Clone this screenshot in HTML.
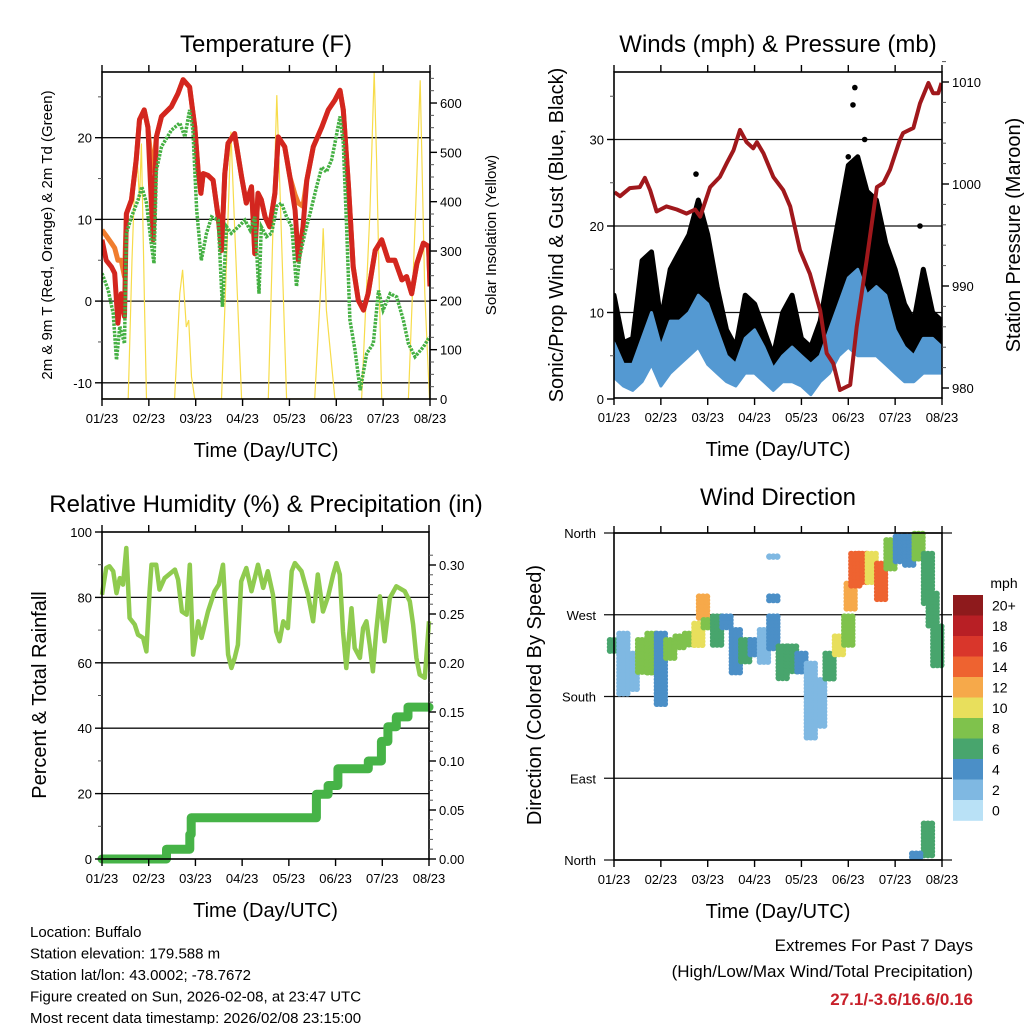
<!DOCTYPE html>
<html><head><meta charset="utf-8"><style>
html,body{margin:0;padding:0;background:#fff;}
svg{display:block;font-family:"Liberation Sans",Arial,sans-serif;}
</style></head><body>
<svg id="c" width="1024" height="1024" viewBox="0 0 1024 1024" xmlns="http://www.w3.org/2000/svg"></svg>
<script>
// ===== DATA =====
const dayTickLabels = ["01/23","02/23","03/23","04/23","05/23","06/23","07/23","08/23"];
// Temperature (F)
const tDay = [0,.09,.2,.27,.34,.41,.48,.52,.63,.73,.8,.9,.98,1.05,1.09,1.16,1.27,1.48,1.62,1.73,1.87,1.98,2.05,2.11,2.16,2.26,2.37,2.48,2.55,2.62,2.69,2.83,2.98,3.08,3.19,3.26,3.33,3.4,3.48,3.58,3.69,3.76,3.9,4.01,4.12,4.19,4.29,4.37,4.51,4.69,4.83,4.97,5.08,5.15,5.26,5.36,5.47,5.58,5.68,5.83,5.97,6.11,6.25,6.4,6.5,6.61,6.72,6.86,6.97,7];
const tRed = [7.5,5,4.2,3.4,-2.7,0.9,-1.9,10.7,12.4,17.3,22.2,23.4,21.3,12.4,7.5,20.1,22.6,23.8,25.4,27.1,26.2,21.3,16,13.2,15.6,15.4,14.8,10.3,6.2,15.6,19.3,20.5,15.2,12,14,5.8,13.2,12.4,10.3,9.1,13.2,20.1,18.9,15.2,11.1,5,9.1,14.8,18.9,21.3,23.4,24.6,25.8,23.4,14,4.2,0.1,-1.1,0.9,6.2,7.5,5,5,2.6,3,0.9,4.6,7.1,6.7,1.8];
const tOrange = [8.7,8,7.1,6.5,5,5,3,10.7,12.4,17.3,22.2,23.4,21.3,17,16,20.1,22.6,23.8,25.4,27.1,26.2,21.3,16,13.2,15.6,15.4,14.8,10.3,6.2,15.6,19.3,20.5,15.2,12,14,5.8,13.2,12.4,10.3,9.1,13.2,20.1,18.9,15.2,13,12,11.6,14.8,18.9,21.3,23.4,24.6,25.8,23.4,14,4.2,0.1,-1.1,0.9,6.2,7.5,5,5,2.6,3,0.9,4.6,7.1,6.7,1.8];
const tdDay = [0,.13,.24,.31,.38,.48,.52,.63,.77,.85,.95,1.05,1.11,1.16,1.27,1.48,1.66,1.77,1.87,1.94,2.02,2.12,2.23,2.34,2.48,2.57,2.66,2.76,2.91,3.05,3.16,3.26,3.35,3.4,3.51,3.62,3.73,3.83,3.94,4.05,4.15,4.22,4.33,4.44,4.58,4.69,4.79,4.9,4.97,5.08,5.15,5.22,5.29,5.4,5.51,5.65,5.79,5.9,6,6.15,6.29,6.43,6.54,6.68,6.86,6.99];
const tdGreen = [3.4,1.4,-1.5,-7.2,-3.1,-5.2,8.3,10.3,12.4,14,12,7.1,4.6,16,18.9,20.9,21.8,20.1,23.4,20.9,11.1,5,8.3,10.3,9.9,-0.7,9.1,8.3,9.1,9.9,8.7,10.3,0.9,9.1,7.9,8.3,11.6,12,10.3,9.1,1.8,5.4,8.3,10.7,14,16.4,15.8,17.3,19.3,22.6,19.3,9.1,-2.3,-6,-10.9,-6.4,-5.2,1.3,-1.1,0.9,0.5,-2.3,-5.2,-6.8,-5.6,-4.4];
const solarDay = [0,.56,.64,.73,.8,.84,.91,.95,1.55,1.66,1.72,1.8,1.85,1.91,1.98,2.55,2.66,2.75,2.83,2.98,3.55,3.65,3.73,3.8,3.94,4.54,4.69,4.72,4.79,4.97,5.54,5.72,5.81,5.86,5.97,6.54,6.68,6.79,6.89,6.99];
const solarVal = [0,0,282,525,403,518,180,0,0,214,262,146,160,45,0,0,282,542,349,0,0,349,616,416,0,0,268,346,180,0,0,383,664,484,0,0,349,646,214,0];
// Winds
const windDay = [0,.2,.4,.6,.8,1,1.2,1.4,1.6,1.8,2,2.2,2.4,2.6,2.8,3,3.2,3.4,3.6,3.8,4,4.2,4.4,4.6,4.8,5,5.2,5.4,5.6,5.8,6,6.2,6.4,6.6,6.8,7];
const speedLo = [2.5,1.5,1,2,4,1.5,3,4,5,6,4,3,2,1.5,3,3,2,1,2,2,1.5,0.5,2,3,5,6,5,5,5,4,3,2,2,3,3,3];
const speedHi = [6.5,4,4,7,10,6,9,9,10,12,11,8,5,4,7,8,6,3.5,5,6,5,4,5,8,11,14,15,12,13,12,8,6,5,7,7,6];
const gustLo = [4,2.5,3,6,7,2,6,7,8,10,7,5,3,2,5,5,3,2,3,4,2,2,3,5,8,10,12,9,9,7,5,4,4,5,5,5];
const gustHi = [12,6.5,7,16,17,9,15,17,19,23,19,13,8,6,12,11,8,5,10,12,7,6,9,15,21,27,28,24,23,18,15,11,9,15,10,9];
const gustPeakDay = [1.75,5.0,5.14,5.1,5.35,6.53];
const gustPeakVal = [26,28,36,34,30,20];
const presDay = [.01,.13,.34,.55,.66,.77,.91,1.12,1.34,1.55,1.73,1.84,2.05,2.26,2.4,2.55,2.69,2.83,2.97,3.05,3.19,3.4,3.61,3.76,3.97,4.18,4.4,4.54,4.68,4.82,5.04,5.18,5.39,5.61,5.75,5.89,6.1,6.17,6.39,6.53,6.71,6.81,6.92,6.99];
const presVal = [999.2,998.8,999.6,999.7,1000.6,999.4,997.3,997.8,997.5,997.1,997.5,996.8,999.7,1000.7,1002,1003.3,1005.3,1004.1,1003.5,1004.1,1003,1000.7,999.4,997.8,993.5,991.2,987.6,983.4,982.4,979.8,980.3,986,992.5,999.7,1000.1,1001.4,1004.3,1005,1005.5,1007.9,1009.9,1008.9,1008.9,1009.9];
// RH & precip
const rhDay = [0,.09,.16,.24,.31,.38,.45,.52,.59,.7,.77,.88,.95,1.02,1.06,1.16,1.23,1.34,1.56,1.63,1.71,1.81,1.88,1.95,2.06,2.13,2.27,2.41,2.5,2.59,2.7,2.77,2.84,2.91,2.98,3.09,3.2,3.34,3.45,3.55,3.66,3.73,3.8,3.88,3.98,4.06,4.13,4.27,4.41,4.52,4.62,4.73,4.84,4.95,5.02,5.09,5.16,5.23,5.34,5.41,5.52,5.59,5.66,5.73,5.8,5.87,5.95,6.05,6.16,6.3,6.48,6.59,6.66,6.73,6.8,6.91,7];
const rhVal = [80.8,89,89.5,88,81.3,85.9,83.9,95.1,73.7,71.7,68.6,67.6,63.5,81.9,90,90,82.4,85.9,88.5,85.4,75.7,74.7,90,62.5,72.7,67.6,75.7,81.9,83.9,90,62.5,58.4,61.5,65.5,84.9,89,81.9,90,82.9,88,80.8,69.6,66.6,72.7,70.6,88,90.5,88,80.8,72.7,87,75.7,80.3,87,90.5,87,69.6,58.4,76.7,64.5,61.5,70.6,72.7,65.5,57.4,69.6,80.3,66.6,79.8,83.4,81.9,78.8,71.7,61.5,56.4,55.4,72.7];
const precipDay = [0,1.38,1.88,1.91,4.59,4.84,5.05,5.7,5.98,6.12,6.3,6.55];
const precipVal = [0,0.01,0.025,0.042,0.066,0.075,0.092,0.1,0.12,0.135,0.145,0.155];
// Wind direction
const dirDay = [0,.2,.4,.6,.8,1,1.2,1.4,1.6,1.8,1.9,2,2.2,2.4,2.6,2.8,3,3.2,3.4,3.6,3.8,4,4.2,4.4,4.6,4.8,5,5.05,5.15,5.3,5.5,5.7,5.9,6.1,6.3,6.5,6.7,6.8,6.9,6.7,6.45,3.4,3.4];
const dirLo = [227,183,187,205,205,169,220,231,235,235,264,253,235,253,205,216,224,216,231,198,205,205,132,147,198,224,235,277,301,304,304,286,319,326,323,330,282,257,213,2,2,334,286];
const dirHi = [242,249,227,242,249,249,242,246,249,260,290,264,268,268,253,242,242,253,268,235,235,227,216,198,227,246,268,304,337,337,337,326,352,356,356,359,337,293,257,40,7,334,290];
const dirSpd = [6,2,2,8,7,3,7,8,8,10,12,7,6,4,3,6,4,2,4,6,6,4,2,2,6,9,8,12,14,14,10,13,7,4,4,7,6,6,6,6,4,1,4];
const cbarLabels = ["20+","18","16","14","12","10","8","6","4","2","0"];
const cbarColors = ["#8e1a1c","#b81f25","#d9362b","#ee6330","#f6a94a","#e8df5c","#7fc24c","#48a56d","#4b8fc7","#7fb8e2","#b9e1f6"];

// ===== HELPERS =====
const NS="http://www.w3.org/2000/svg";
const svg=document.getElementById('c');
function mk(tag,attrs,parent){const e=document.createElementNS(NS,tag);for(const k in attrs)e.setAttribute(k,attrs[k]);(parent||svg).appendChild(e);return e;}
function txt(s,x,y,size,anchor,parent,extra){const t=mk('text',Object.assign({x:x,y:y,'font-size':size,'text-anchor':anchor||'middle',fill:'#000'},extra||{}),parent);t.textContent=s;return t;}
function pathFrom(xs,ys){let d='';for(let i=0;i<xs.length;i++)d+=(i?'L':'M')+xs[i].toFixed(1)+','+ys[i].toFixed(1);return d;}

function frame(P,g){
  mk('rect',{x:P.x0,y:P.y0,width:P.x1-P.x0,height:P.y1-P.y0,fill:'none',stroke:'#000','stroke-width':1.6},g);
  for(let i=0;i<8;i++){const x=P.x0+i*(P.x1-P.x0)/7;
    mk('line',{x1:x,y1:P.y1,x2:x,y2:P.y1+7,stroke:'#000','stroke-width':1.4},g);
    mk('line',{x1:x,y1:P.y0,x2:x,y2:P.y0-7,stroke:'#000','stroke-width':1.4},g);
    const t=txt(dayTickLabels[i],x,P.y1+24,13,'middle',g);
    
    
  }
  const xt=txt('Time (Day/UTC)',(P.x0+P.x1)/2,P.y1+58,20,'middle',g);
  
  
}
function leftTicks(P,vals,labels,yf,g,size){
  vals.forEach((v,i)=>{const y=yf(v);
    mk('line',{x1:P.x0-7,y1:y,x2:P.x0,y2:y,stroke:'#000','stroke-width':1.4},g);
    const t=txt(labels[i],P.x0-10,y+5,size||13,'end',g);
    
    });
}
function rightTicks(P,vals,labels,yf,g){
  vals.forEach((v,i)=>{const y=yf(v);
    mk('line',{x1:P.x1,y1:y,x2:P.x1+7,y2:y,stroke:'#000','stroke-width':1.4},g);
    const t=txt(labels[i],P.x1+10,y+5,13,'start',g);
    
    });
}
function minorTicks(P,vals,yf,side,g){
  vals.forEach(v=>{const y=yf(v);const x=side==='l'?P.x0:P.x1;const dx=side==='l'?-4:4;
    mk('line',{x1:x,y1:y,x2:x+dx,y2:y,stroke:'#555','stroke-width':1},g);});
}
function grid(P,vals,yf,g){vals.forEach(v=>{const y=yf(v);mk('line',{x1:P.x0,y1:y,x2:P.x1,y2:y,stroke:'#111','stroke-width':1.3},g);});}
function vtitle(s,x,y,size,g,name){const t=txt(s,x,y,size,'middle',g,{transform:'rotate(-90 '+x+' '+y+')'});return t;}
function title(s,x,y,g,name){const t=txt(s,x,y,24,'middle',g);}

// ===== PANEL 1: TEMPERATURE =====
(function(){
  const P={x0:102,x1:430,y0:72,y1:399};
  const g=mk('g',{});  
  const xs=d=>P.x0+d/7*(P.x1-P.x0);
  const yT=v=>137.7+(20-v)*8.17;
  const yS=v=>399-v*0.4933;
  const clip=mk('clipPath',{id:'cp1'},g);mk('rect',{x:P.x0,y:P.y0,width:P.x1-P.x0,height:P.y1-P.y0},clip);
  grid(P,[20,10,0,-10],yT,g);
  const s=mk('path',{d:pathFrom(solarDay.map(xs),solarVal.map(yS)),fill:'none',stroke:'#f7dc4a','stroke-width':1.2,'clip-path':'url(#cp1)'},g);
   
  const o=mk('path',{d:pathFrom(tDay.map(xs),tOrange.map(yT)),fill:'none',stroke:'#f07d2e','stroke-width':5,'stroke-linejoin':'round','clip-path':'url(#cp1)'},g);
   
  const r=mk('path',{d:pathFrom(tDay.map(xs),tRed.map(yT)),fill:'none',stroke:'#d3261f','stroke-width':5,'stroke-linejoin':'round','clip-path':'url(#cp1)'},g);
   
  const gr=mk('path',{d:pathFrom(tdDay.map(xs),tdGreen.map(yT)),fill:'none',stroke:'#45b043','stroke-width':3.5,'stroke-dasharray':'2.5 1.2','clip-path':'url(#cp1)'},g);
   
  frame(P,g);
  leftTicks(P,[20,10,0,-10],["20","10","0","-10"],yT,g);
  minorTicks(P,[25,15,5,-5],yT,'l',g);
  rightTicks(P,[0,100,200,300,400,500,600],["0","100","200","300","400","500","600"],yS,g);
  const m=[];for(let v=25;v<=650;v+=25)if(v%100)m.push(v);minorTicks(P,m,yS,'r',g);
  title('Temperature (F)',266,52,g,'temperature-title');
  vtitle('2m & 9m T (Red, Orange) & 2m Td (Green)',52,235,15,g,'temperature-y-axis-title');
  vtitle('Solar Insolation (Yellow)',496,235,15,g,'solar-y-axis-title');
})();

// ===== PANEL 2: WINDS & PRESSURE =====
(function(){
  const P={x0:614,x1:942,y0:72,y1:398};
  const g=mk('g',{});  
  const xs=d=>P.x0+d/7*(P.x1-P.x0);
  const yW=v=>399-v*8.65;
  const yP=v=>82+(1010-v)*10.2;
  const clip=mk('clipPath',{id:'cp2'},g);mk('rect',{x:P.x0,y:P.y0,width:P.x1-P.x0,height:P.y1-P.y0},clip);
  grid(P,[10,20,30],yW,g);
  const xsArr=windDay.map(xs);
  const gd=pathFrom(xsArr.concat(xsArr.slice().reverse()),gustHi.map(yW).concat(gustLo.map(yW).reverse()))+'Z';
  const gb=mk('path',{d:gd,fill:'#000',stroke:'#000','stroke-width':5,'stroke-linejoin':'round','clip-path':'url(#cp2)'},g);
   
  gustPeakDay.forEach((d,i)=>{const c=mk('circle',{cx:xs(d),cy:yW(gustPeakVal[i]),r:2.8,fill:'#000'},g);
     });
  const sd=pathFrom(xsArr.concat(xsArr.slice().reverse()),speedHi.map(yW).concat(speedLo.map(yW).reverse()))+'Z';
  const sb=mk('path',{d:sd,fill:'#5499d2',stroke:'#5499d2','stroke-width':3,'stroke-linejoin':'round','clip-path':'url(#cp2)'},g);
   
  const p=mk('path',{d:pathFrom(presDay.map(xs),presVal.map(yP)),fill:'none',stroke:'#a0181c','stroke-width':4,'stroke-linejoin':'round','clip-path':'url(#cp2)'},g);
   
  frame(P,g);
  leftTicks(P,[0,10,20,30],["0","10","20","30"],yW,g);
  minorTicks(P,[5,15,25,35],yW,'l',g);
  rightTicks(P,[980,990,1000,1010],["980","990","1000","1010"],yP,g);
  const m=[];for(let v=980;v<=1012;v+=2)if(v%10)m.push(v);minorTicks(P,m,yP,'r',g);
  title('Winds (mph) & Pressure (mb)',778,52,g,'winds-title');
  vtitle('Sonic/Prop Wind & Gust (Blue, Black)',563,235,20,g,'wind-y-axis-title');
  vtitle('Station Pressure (Maroon)',1020,235,20,g,'pressure-y-axis-title');
})();

// ===== PANEL 3: RH & PRECIP =====
(function(){
  const P={x0:102,x1:429,y0:532,y1:859};
  const g=mk('g',{});  
  const xs=d=>P.x0+d/7*(P.x1-P.x0);
  const yR=v=>859-v*3.27;
  const yPr=v=>859-v/0.30*294;
  const clip=mk('clipPath',{id:'cp3'},g);mk('rect',{x:P.x0-6,y:P.y0,width:P.x1-P.x0+12,height:P.y1-P.y0+6},clip);
  grid(P,[20,40,60,80],yR,g);
  const r=mk('path',{d:pathFrom(rhDay.map(xs),rhVal.map(yR)),fill:'none',stroke:'#8fcb4f','stroke-width':4.5,'stroke-linejoin':'round'},g);
   
  let d='';precipDay.forEach((dd,i)=>{const x=xs(dd),y=yPr(precipVal[i]);d+=(i?'L'+x.toFixed(1)+','+yPr(precipVal[i-1]).toFixed(1):'M'+x+','+y)+'L'+x.toFixed(1)+','+y.toFixed(1);});
  d+='L'+xs(7)+','+yPr(precipVal[precipVal.length-1]);
  const p=mk('path',{d:d,fill:'none',stroke:'#46b347','stroke-width':9,'stroke-linejoin':'round','stroke-linecap':'round','clip-path':'url(#cp3)'},g);
   
  frame(P,g);
  leftTicks(P,[0,20,40,60,80,100],["0","20","40","60","80","100"],yR,g);
  minorTicks(P,[10,30,50,70,90],yR,'l',g);
  rightTicks(P,[0,.05,.1,.15,.2,.25,.3],["0.00","0.05","0.10","0.15","0.20","0.25","0.30"],yPr,g);
  const m=[];for(let i=1;i<32;i++)if(i%5)m.push(i/100);minorTicks(P,m,yPr,'r',g);
  title('Relative Humidity (%) & Precipitation (in)',266,512,g,'humidity-title');
  vtitle('Percent & Total Rainfall',46,695,20,g,'humidity-y-axis-title');
})();

// ===== PANEL 4: WIND DIRECTION =====
(function(){
  const P={x0:614,x1:942,y0:533,y1:860};
  const g=mk('g',{});  
  const xs=d=>P.x0+d/7*(P.x1-P.x0);
  const yD=v=>860-v*(327/360);
  [90,180,270].forEach(v=>mk('line',{x1:P.x0-10,y1:yD(v),x2:P.x1+10,y2:yD(v),stroke:'#111','stroke-width':1.3},g));
  [0,360].forEach(v=>mk('line',{x1:P.x0-10,y1:yD(v),x2:P.x1+10,y2:yD(v),stroke:'#111','stroke-width':1.3},g));
  const colorFor=s=>cbarColors[10-Math.max(0,Math.min(10,Math.round(s/2)))];
  dirDay.forEach((dd,i)=>{
    const x=xs(dd), ya=yD(dirHi[i]), yb=yD(dirLo[i]);
    const col=colorFor(dirSpd[i]);
    for(let y=ya;y<=yb+0.1;y+=3.5){
      for(let k=-1;k<=1;k++){
        const c=mk('circle',{cx:x+k*4,cy:y,r:3.2,fill:col},g);
        
        
      }
    }
  });
  frame(P,g);
  const lab=["North","East","South","West","North"];
  [0,90,180,270,360].forEach((v,i)=>{const t=txt(lab[i],P.x0-18,yD(v)+5,13,'end',g);
     });
  title('Wind Direction',778,505,g,'wind-direction-title');
  vtitle('Direction (Colored By Speed)',541,695,20,g,'direction-y-axis-title');
  // colorbar
  const cb=mk('g',{},g);  
  const bh=20.5;
  cbarColors.forEach((c,i)=>{const rr=mk('rect',{x:953,y:595+i*bh,width:30,height:bh+0.3,fill:c},cb);
     
    const t=txt(cbarLabels[i],992,595+i*bh+bh/2+5,14,'start',cb);
     });
  const mt=txt('mph',1004,588,14,'middle',cb);  
})();

// ===== FOOTER TEXT =====
(function(){
  const g=mk('g',{});  
  ["Location: Buffalo","Station elevation: 179.588 m","Station lat/lon: 43.0002; -78.7672","Figure created on Sun, 2026-02-08, at 23:47 UTC","Most recent data timestamp: 2026/02/08 23:15:00"].forEach((s,i)=>{
    const t=txt(s,30,937+i*21.5,15,'start',g);  });
  const h=mk('g',{});  
  const a=txt('Extremes For Past 7 Days',973,951,17,'end',h);  
  const b=txt('(High/Low/Max Wind/Total Precipitation)',973,977,17,'end',h);  
  const c=txt('27.1/-3.6/16.6/0.16',973,1005,17,'end',h,{fill:'#c8202a','font-weight':'bold'});  
})();
</script>
</body></html>
